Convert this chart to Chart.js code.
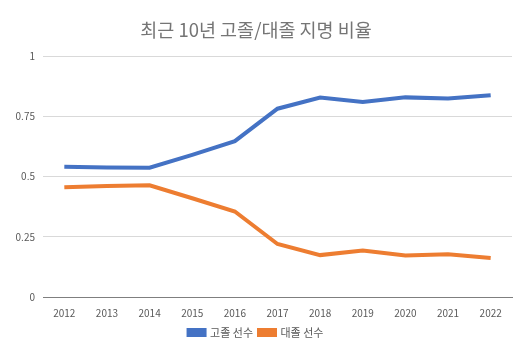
<!DOCTYPE html>
<html>
<head>
<meta charset="utf-8">
<script src="https://cdn.jsdelivr.net/npm/chart.js@4/dist/chart.umd.min.js"></script>
<style>
  html, body { margin: 0; padding: 0; background: #fff; }
  #wrap { width: 529px; height: 358px; position: relative; }
</style>
</head>
<body>
<div id="wrap"><canvas id="chart"></canvas></div>
<script>
const years = ['2012', '2013', '2014', '2015', '2016', '2017', '2018', '2019', '2020', '2021', '2022'];
const highSchool = [0.541, 0.538, 0.537, 0.59, 0.647, 0.782, 0.828, 0.81, 0.829, 0.824, 0.838];
const college = [0.456, 0.461, 0.464, 0.41, 0.355, 0.22, 0.174, 0.193, 0.172, 0.178, 0.162];
const yTicks = [0, 0.25, 0.5, 0.75, 1];

const FONT = '"Noto Sans CJK KR", "Noto Sans", sans-serif';
const GRAY = '#595959';

new Chart(document.getElementById('chart'), {
  type: 'line',
  data: {
    labels: years,
    datasets: [
      {
        label: '고졸 선수',
        data: highSchool,
        borderColor: '#4472C4',
        backgroundColor: '#4472C4',
        borderWidth: 4,
        pointRadius: 0,
        tension: 0,
      },
      {
        label: '대졸 선수',
        data: college,
        borderColor: '#ED7D31',
        backgroundColor: '#ED7D31',
        borderWidth: 4,
        pointRadius: 0,
        tension: 0,
      },
    ],
  },
  options: {
    responsive: true,
    maintainAspectRatio: false,
    animation: false,
    layout: { padding: { left: 0, right: 17, top: 19, bottom: 10 } },
    scales: {
      x: {
        offset: true,
        grid: { display: false },
        border: { display: true, color: '#7f7f7f', width: 1 },
        ticks: { color: GRAY, font: { family: FONT, size: 10 }, maxRotation: 0, padding: 2 },
      },
      y: {
        min: 0,
        max: 1,
        afterFit: (s) => { s.width = 43; },
        afterBuildTicks: (s) => { s.ticks = yTicks.map((v) => ({ value: v })); },
        grid: { color: '#d9d9d9', drawTicks: false, lineWidth: 1 },
        border: { display: false },
        ticks: {
          color: GRAY,
          font: { family: FONT, size: 10 },
          padding: 8,
          callback: (v) => String(v),
        },
      },
    },
    plugins: {
      title: {
        display: true,
        text: '최근 10년 고졸/대졸 지명 비율',
        color: '#757575',
        font: { family: FONT, size: 18.5, weight: 'normal' },
        padding: { top: 0, bottom: 15 },
      },
      legend: {
        position: 'bottom',
        labels: {
          color: GRAY,
          font: { family: FONT, size: 11 },
          boxWidth: 16,
          boxHeight: 5,
          padding: 6,
        },
      },
      tooltip: { enabled: false },
    },
  },
});
</script>
</body>
</html>
